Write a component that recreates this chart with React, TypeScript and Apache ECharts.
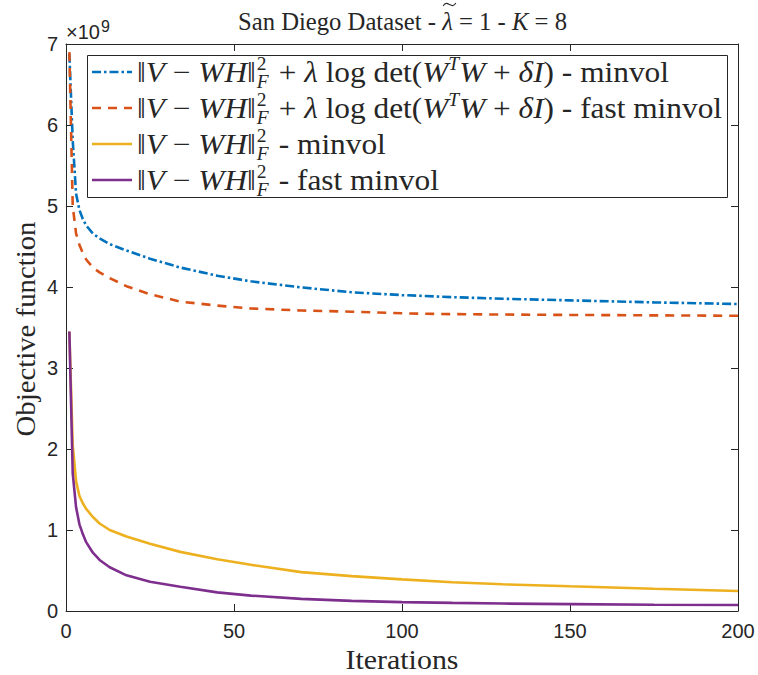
import React, { useEffect, useRef } from 'react';
import * as echarts from 'echarts';

// ---- data (objective values in units of 1e9) ----
const iterations = [1, 2, 3, 4, 5, 6, 8, 10, 13, 18, 25, 34, 45, 55, 70, 85, 100, 115, 130, 150, 175, 200];
const regMinvol = [6.88, 5.81, 5.15, 4.95, 4.84, 4.76, 4.66, 4.6, 4.53, 4.45, 4.35, 4.24, 4.14, 4.07, 3.995, 3.935, 3.9, 3.875, 3.855, 3.835, 3.81, 3.79];
const regFast = [6.9, 5.0, 4.66, 4.52, 4.42, 4.34, 4.24, 4.18, 4.11, 4.01, 3.91, 3.82, 3.77, 3.735, 3.71, 3.695, 3.675, 3.665, 3.66, 3.655, 3.65, 3.645];
const fitMinvol = [3.45, 2.05, 1.6, 1.42, 1.33, 1.26, 1.16, 1.08, 1.0, 0.92, 0.83, 0.73, 0.64, 0.57, 0.48, 0.43, 0.39, 0.355, 0.33, 0.305, 0.275, 0.247];
const fitFast = [3.45, 1.7, 1.28, 1.07, 0.95, 0.85, 0.72, 0.63, 0.54, 0.44, 0.36, 0.3, 0.23, 0.19, 0.15, 0.125, 0.11, 0.1, 0.092, 0.085, 0.078, 0.074];
const seriesNames = [
  '||V-WH||_F^2 + lambda logdet(W^TW+delta I) - minvol',
  '||V-WH||_F^2 + lambda logdet(W^TW+delta I) - fast minvol',
  '||V-WH||_F^2 - minvol',
  '||V-WH||_F^2 - fast minvol',
];
const seriesValues = [regMinvol, regFast, fitMinvol, fitFast];
const seriesColors = ['#0072BD', '#D95319', '#EDB120', '#7E2F8E'];
const seriesDash: any[] = [[9, 3, 2.5, 3], [9, 7], 'solid', 'solid'];

type Piece = { t: string; it?: boolean; k?: 'sup' | 'stack'; t2?: string; tilde?: boolean };

const SERIF = 'Liberation Serif';
const SANS = 'Liberation Sans';
const TXT = '#262626';

let ctx: CanvasRenderingContext2D | null = null;
function mw(text: string, size: number, it?: boolean, fam: string = SERIF) {
  if (!ctx) ctx = document.createElement('canvas').getContext('2d');
  ctx!.font = `${it ? 'italic ' : ''}${size}px "${fam}"`;
  return ctx!.measureText(text).width;
}

function txt(text: string, x: number, y: number, size: number, it?: boolean, fam: string = SERIF, align = 'left', extra: any = {}) {
  return {
    type: 'text',
    x,
    y,
    silent: true,
    z: 120,
    ...extra,
    style: {
      text,
      fontSize: size,
      fontFamily: fam,
      fontStyle: it ? 'italic' : 'normal',
      fill: TXT,
      align,
      textAlign: align,
      verticalAlign: 'middle',
      textVerticalAlign: 'middle',
    },
  };
}

function layout(pieces: Piece[], x0: number, yc: number, fs: number, sx: number, out: any[] | null) {
  let x = x0;
  const ex = { scaleX: sx };
  for (const p of pieces) {
    if (p.k === 'stack') {
      const s = fs * 0.62;
      const w1 = mw(p.t, s, false);
      const w2 = mw(p.t2 || '', s, true);
      if (out) {
        out.push(txt(p.t, x + 1, yc - 0.29 * fs, s, false, SERIF, 'left', ex));
        out.push(txt(p.t2 || '', x + 1, yc + 0.34 * fs, s, true, SERIF, 'left', ex));
      }
      x += (Math.max(w1, w2) + 3) * sx;
    } else if (p.k === 'sup') {
      const s = fs * 0.62;
      if (out) out.push(txt(p.t, x, yc - 0.3 * fs, s, p.it, SERIF, 'left', ex));
      x += mw(p.t, s, p.it) * sx;
    } else {
      const w = mw(p.t, fs, p.it) * sx;
      if (out) {
        out.push(txt(p.t, x, yc, fs, p.it, SERIF, 'left', ex));
        if (p.tilde) {
          const ty = yc - 0.66 * fs;
          const xa = x + 1;
          const xb = x + w + 3;
          const xm = (xa + xb) / 2;
          out.push({
            type: 'bezierCurve', silent: true, z: 120,
            shape: { x1: xa, y1: ty + 1.5, x2: xb, y2: ty - 1.5, cpx1: xm - 2, cpy1: ty - 6, cpx2: xm + 2, cpy2: ty + 6 },
            style: { stroke: TXT, lineWidth: 1.1, fill: null },
          });
        }
      }
      x += w;
    }
  }
  return x - x0;
}

const prefix: Piece[] = [
  { t: '\u2016' }, { t: 'V', it: true }, { t: ' \u2212 ' }, { t: 'WH', it: true }, { t: '\u2016' }, { t: '2', k: 'stack', t2: 'F' },
];
const regTail: Piece[] = [
  { t: ' + ' }, { t: '\u03bb', it: true }, { t: ' log det(' }, { t: 'W', it: true }, { t: 'T', it: true, k: 'sup' },
  { t: 'W', it: true }, { t: ' + ' }, { t: '\u03b4I', it: true }, { t: ')' },
];
const legendRows: Piece[][] = [
  [...prefix, ...regTail, { t: ' - minvol' }],
  [...prefix, ...regTail, { t: ' - fast minvol' }],
  [...prefix, { t: ' - minvol' }],
  [...prefix, { t: ' - fast minvol' }],
];
const titlePieces: Piece[] = [
  { t: 'San Diego Dataset - ' }, { t: '\u03bb', it: true, tilde: true }, { t: ' = 1 - ' }, { t: 'K', it: true }, { t: ' = 8' },
];

export default function App() {
  const ref = useRef<HTMLDivElement>(null);
  useEffect(() => {
    if (!ref.current) return;
    const chart = echarts.init(ref.current, undefined, { renderer: 'svg' });

    const g: any[] = [];
    // legend box
    g.push({ type: 'rect', z: 100, silent: true, shape: { x: 87.5, y: 55.5, width: 640, height: 142 }, style: { fill: '#fff', stroke: TXT, lineWidth: 1 } });
    const rowY = [72, 108, 144, 180];
    const lfs = 29;
    const lsx = 585 / layout(legendRows[1], 0, 0, lfs, 1, null);
    legendRows.forEach((row, i) => {
      g.push({
        type: 'line', z: 110, silent: true,
        shape: { x1: 92, y1: rowY[i], x2: 132, y2: rowY[i] },
        style: { stroke: seriesColors[i], lineWidth: 2.6, lineDash: seriesDash[i] === 'solid' ? null : seriesDash[i] },
      });
      layout(row, 137, rowY[i], lfs, lsx, g);
    });
    // title
    const tfs = 25;
    const tsx = 329 / layout(titlePieces, 0, 0, tfs, 1, null);
    layout(titlePieces, 238, 21, tfs, tsx, g);
    // axis titles
    const afs = 27;
    const xsx = 113 / mw('Iterations', afs);
    g.push(txt('Iterations', 402, 660, afs, false, SERIF, 'center', { scaleX: xsx }));
    const ysx = 215 / mw('Objective function', afs);
    g.push(txt('Objective function', 26, 329, afs, false, SERIF, 'center', { rotation: Math.PI / 2, scaleX: ysx }));
    // exponent label
    const ew = mw('\u00d710', 20, false, SANS);
    g.push(txt('\u00d710', 66, 32, 20, false, SANS));
    g.push(txt('9', 66 + ew + 1, 26, 16, false, SANS));

    const axisCommon = {
      type: 'value',
      axisLine: { show: true, onZero: false, lineStyle: { color: TXT, width: 1 } },
      axisTick: { show: true, inside: true, length: 7, lineStyle: { color: TXT } },
      splitLine: { show: false },
    };
    const labelStyle = { fontSize: 20, fontFamily: SANS, color: TXT };

    chart.setOption({
      animation: false,
      backgroundColor: '#fff',
      grid: { left: 66, right: 20, top: 44, bottom: 64 },
      xAxis: [
        { ...axisCommon, min: 0, max: 200, interval: 50, position: 'bottom', axisLabel: { ...labelStyle, margin: 10 } },
        { ...axisCommon, min: 0, max: 200, interval: 50, position: 'top', axisLabel: { show: false } },
      ],
      yAxis: [
        { ...axisCommon, min: 0, max: 7, interval: 1, position: 'left', axisLabel: { ...labelStyle, margin: 8 } },
        { ...axisCommon, min: 0, max: 7, interval: 1, position: 'right', axisLabel: { show: false } },
      ],
      series: seriesValues.map((vals, i) => ({
        type: 'line',
        name: seriesNames[i],
        xAxisIndex: 0,
        yAxisIndex: 0,
        showSymbol: false,
        symbol: 'none',
        smooth: false,
        data: iterations.map((it, j) => [it, vals[j]]),
        lineStyle: { color: seriesColors[i], width: 2.6, type: seriesDash[i] },
        itemStyle: { color: seriesColors[i] },
        z: 2 + i,
      })),
      graphic: g,
    });
    return () => chart.dispose();
  }, []);
  return <div ref={ref} style={{ position: 'fixed', left: 0, top: 0, width: 758, height: 675 }} />;
}
